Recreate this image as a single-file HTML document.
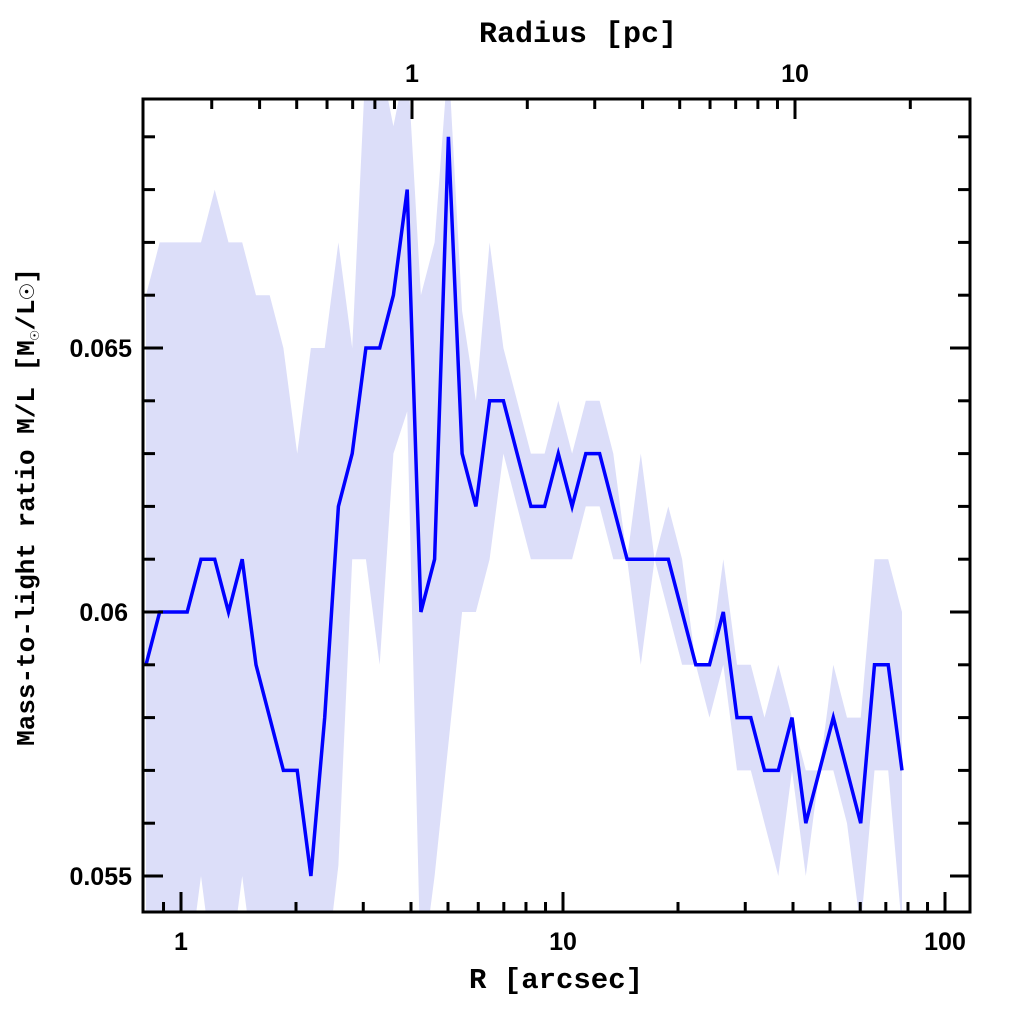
<!DOCTYPE html>
<html><head><meta charset="utf-8"><style>
html,body{margin:0;padding:0;background:#fff;}
svg{display:block;}
.t{font-family:"Liberation Mono",monospace;font-weight:bold;fill:#000;}
.n{font-family:"Liberation Sans",sans-serif;font-weight:bold;fill:#000;font-size:25px;}
</style></head><body>
<svg id="s" width="1024" height="1024" xmlns="http://www.w3.org/2000/svg">
<defs><clipPath id="c"><rect x="143" y="99" width="827" height="813"/></clipPath></defs>
<g id="plot" clip-path="url(#c)"></g>
<g id="ax"></g>
<rect x="143" y="99" width="827" height="813" fill="none" stroke="#000" stroke-width="3"/>
<text class="t" x="578" y="42" font-size="30" text-anchor="middle">Radius [pc]</text>
<text class="n" x="412" y="82" text-anchor="middle">1</text>
<text class="n" x="795" y="82" text-anchor="middle">10</text>
<text class="n" x="181" y="950" text-anchor="middle">1</text>
<text class="n" x="563" y="950" text-anchor="middle">10</text>
<text class="n" x="945" y="950" text-anchor="middle">100</text>
<text class="t" x="556" y="988" font-size="29" text-anchor="middle">R [arcsec]</text>
<text class="n" x="132" y="357" text-anchor="end">0.065</text>
<text class="n" x="128" y="621" text-anchor="end">0.06</text>
<text class="n" x="132" y="885" text-anchor="end">0.055</text>
<text class="t" font-size="26" transform="translate(34,507) rotate(-90)" text-anchor="middle">Mass-to-light ratio M/L [M<tspan font-size="16" dy="5">☉</tspan><tspan dy="-5">/L☉]</tspan></text>
</svg>
<script>
var v=[59,60,60,60,61,61,60,61,59,58,57,57,55,58,62,63,65,65,66,68,60,61,69,63,62,64,64,63,62,62,63,62,63,63,62,61,61,61,61,60,59,59,60,58,58,57,57,58,56,57,58,57,56,59,59,57];
var up=[66,67,67,67,67,68,67,67,66,66,65,63,65,65,67,65,70.5,70.5,69.2,70.5,66,67,70.5,65.7,64,67,65,64,63,63,64,63,64,64,63,61,63,61,62,61,59,59,61,59,59,58,59,58,57,57,59,58,58,61,61,60];
var lo=[53,53,53,53,55,53,53,55,53,53,53,53,53,53,55.2,61,61,59,63,63.8,53,55,57.5,60,60,61,63,62,61,61,61,61,62,62,61,61,59,61,60,59,59,58,59,57,57,56,55,57,55,57,57,56,54,57,57,54];
function X(i){return 146+13.745*i;}
function Y(k){return 612-(k-60)*52.8;}
var ns="http://www.w3.org/2000/svg";
var p=document.getElementById("plot");
var d="";
for(var i=0;i<v.length;i++)d+=(i?"L":"M")+X(i).toFixed(1)+","+Y(up[i]).toFixed(1);
for(var i=v.length-1;i>=0;i--)d+="L"+X(i).toFixed(1)+","+Y(lo[i]).toFixed(1);
d+="Z";
var b=document.createElementNS(ns,"path");b.setAttribute("d",d);b.setAttribute("fill","#dcdef9");p.appendChild(b);
var l="";for(var i=0;i<v.length;i++)l+=(i?"L":"M")+X(i).toFixed(1)+","+Y(v[i]).toFixed(1);
var pl=document.createElementNS(ns,"path");pl.setAttribute("d",l);pl.setAttribute("fill","none");pl.setAttribute("stroke","#0000ff");pl.setAttribute("stroke-width","3.5");pl.setAttribute("stroke-linejoin","miter");p.appendChild(pl);
var ax=document.getElementById("ax");
function ln(x1,y1,x2,y2){var e=document.createElementNS(ns,"line");e.setAttribute("x1",x1);e.setAttribute("y1",y1);e.setAttribute("x2",x2);e.setAttribute("y2",y2);e.setAttribute("stroke","#000");e.setAttribute("stroke-width","3");ax.appendChild(e);}
for(var dec=-1;dec<=2;dec++)for(var m=1;m<10;m++){var x=181+382*(dec+Math.log10(m));if(x<145||x>968)continue;var L=(m==1)?20:10;ln(x,912,x,912-L);}
for(var dec=-1;dec<=1;dec++)for(var m=1;m<10;m++){var x=412+383*(dec+Math.log10(m));if(x<145||x>968)continue;var L=(m==1)?20:10;ln(x,99,x,99+L);}
for(var k=55;k<=69;k++){var y=Y(k);var L=(k%5==0)?20:12;ln(143,y,143+L,y);ln(970,y,970-L,y);}
</script>
</body></html>
